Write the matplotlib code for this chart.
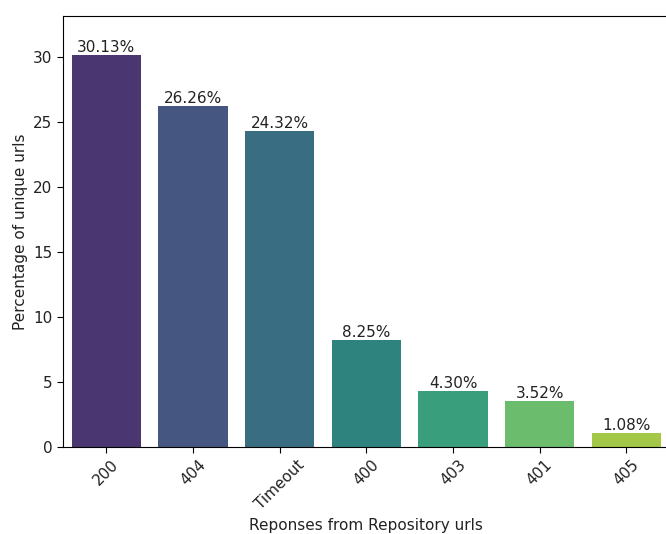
import matplotlib
matplotlib.use("Agg")
import matplotlib.pyplot as plt
import seaborn as sns

responses = ["200", "404", "Timeout", "400", "403", "401", "405"]
percentages = [30.13, 26.26, 24.32, 8.25, 4.30, 3.52, 1.08]

plt.rcParams["font.size"] = 11

fig = plt.figure(figsize=(6.66, 5.34), dpi=100)
# the original was cropped on the right, so the axes run past the edge
ax = fig.add_axes([0.0946, 0.163, 0.911, 0.807])

sns.barplot(x=responses, y=percentages, hue=responses, palette="viridis",
            legend=False, ax=ax)

for container in ax.containers:
    ax.bar_label(container, fmt="%.2f%%", fontsize=11, color="#222222")

ax.set_ylim(0, max(percentages) * 1.1)
ax.set_xlabel("Reponses from Repository urls", color="#222222")
ax.set_ylabel("Percentage of unique urls", color="#222222")
ax.tick_params(labelcolor="#222222", length=4)
plt.setp(ax.get_xticklabels(), rotation=45)

fig.savefig("out.png", dpi=100)
plt.close(fig)
